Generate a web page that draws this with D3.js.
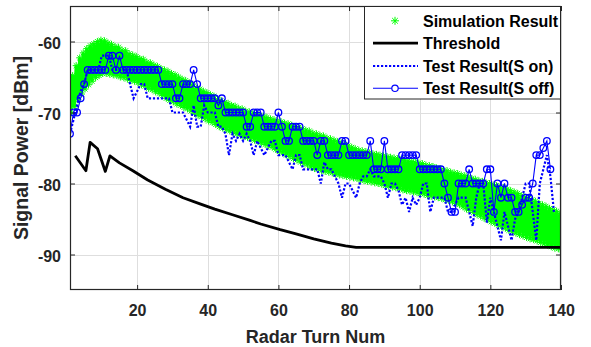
<!DOCTYPE html>
<html><head><meta charset="utf-8">
<script src="https://cdn.jsdelivr.net/npm/d3@7"></script>
<style>
body{margin:0;background:#fff}
text{font-family:"Liberation Sans",Arial,sans-serif;font-weight:bold}
</style>
</head><body><svg id="c" width="591" height="347"></svg>
<script>
const xTicks=[20,40,60,80,100,120,140];
const yTicks=[-90,-80,-70,-60];
const legendLabels=["Simulation Result","Threshold","Test Result(S on)","Test Result(S off)"];

// simulation band (upper / lower per turn, turns 1..140)
const simHi=[-66.3,-64.8,-63.4,-62.3,-61.6,-61.0,-60.6,-60.3,-60.0,-59.8,
-59.9,-60.2,-60.4,-60.7,-60.8,-61.2,-61.3,-61.7,-61.9,-62.1,
-62.4,-62.5,-62.9,-63.0,-63.3,-63.5,-63.8,-64.0,-64.2,-64.5,
-64.7,-65.0,-65.3,-65.5,-65.8,-66.0,-66.6,-66.7,-67.0,-67.2,
-67.5,-67.7,-68.2,-68.3,-68.6,-68.7,-69.0,-69.1,-69.4,-69.5,
-69.8,-69.9,-70.1,-70.2,-70.4,-70.5,-70.7,-70.9,-71.0,-71.2,
-71.3,-71.5,-71.6,-71.8,-72.0,-72.1,-72.3,-72.5,-72.6,-72.9,
-73.0,-73.2,-73.3,-73.6,-73.7,-73.9,-74.1,-74.3,-74.5,-74.7,
-74.9,-75.1,-75.3,-75.4,-75.5,-75.7,-75.8,-75.9,-76.0,-76.1,
-76.2,-76.3,-76.4,-76.5,-76.6,-76.7,-76.8,-76.9,-77.0,-77.1,
-77.2,-77.4,-77.5,-77.6,-77.8,-77.9,-78.1,-78.2,-78.4,-78.5,
-78.6,-78.8,-78.9,-79.1,-79.3,-79.4,-79.6,-79.7,-79.9,-80.0,
-80.2,-80.3,-80.5,-80.6,-80.8,-81.0,-81.2,-81.4,-81.7,-81.9,
-82.1,-82.3,-82.5,-82.8,-83.0,-83.2,-83.5,-83.7,-83.9,-84.2];
const simLo=[-70.2,-69.2,-68.2,-67.4,-66.7,-66.1,-65.6,-65.1,-64.8,-64.5,
-64.5,-64.6,-64.7,-64.8,-65.0,-65.1,-65.3,-65.5,-65.6,-65.8,
-66.1,-66.3,-66.6,-66.8,-67.1,-67.3,-67.6,-68.0,-68.3,-68.5,
-68.8,-69.0,-69.3,-69.5,-69.8,-70.1,-70.4,-70.6,-70.9,-71.2,
-71.4,-71.7,-72.0,-72.2,-72.4,-72.6,-72.8,-73.0,-73.2,-73.4,
-73.5,-73.7,-73.9,-74.1,-74.3,-74.5,-74.7,-74.9,-75.2,-75.5,
-75.7,-76.0,-76.2,-76.5,-76.7,-77.0,-77.2,-77.4,-77.7,-77.9,
-78.0,-78.2,-78.3,-78.4,-78.5,-78.7,-78.8,-78.9,-79.0,-79.1,
-79.2,-79.3,-79.5,-79.6,-79.7,-79.8,-79.9,-80.0,-80.1,-80.3,
-80.4,-80.5,-80.6,-80.7,-80.9,-81.0,-81.1,-81.2,-81.3,-81.4,
-81.5,-81.7,-81.8,-81.9,-82.0,-82.1,-82.3,-82.4,-82.6,-82.8,
-83.0,-83.3,-83.6,-83.8,-84.1,-84.4,-84.6,-84.9,-85.1,-85.4,
-85.6,-85.9,-86.1,-86.3,-86.6,-86.8,-87.0,-87.2,-87.4,-87.6,
-87.8,-87.9,-88.1,-88.3,-88.5,-88.7,-88.9,-89.1,-89.2,-89.3];

// threshold curve
const thrX=[2.5,5.5,6.7,8.8,11,12.3,15,18.8,23,28,33,38,42,47,52,55,60.5,65,70,75,79,82,100,120,140];
const thrY=[-76.1,-78.2,-74.2,-75.1,-78.3,-76.1,-77.1,-78.2,-79.5,-80.8,-82,-82.9,-83.6,-84.4,-85.2,-85.7,-86.5,-87.1,-87.8,-88.4,-88.8,-89,-89,-89,-89];

// Test Result (S off), turns 1..137
const sOff=[-73,-70,-70,-68,-66,-64,-64,-64,-64,-64,
-64,-62,-62,-64,-62,-64,-64,-64,-64,-64,
-64,-64,-64,-64,-64,-64,-66,-66,-66,-66,
-68,-68,-66,-66,-66,-64,-66,-68,-68,-68,
-68,-68,-69,-68,-70,-70,-70,-70,-70,-70,
-72,-72,-70,-70,-70,-72,-72,-72,-72,-70,
-72,-74,-74,-72,-72,-72,-74,-74,-74,-74,
-76,-74,-74,-76,-76,-76,-76,-74,-74,-76,
-76,-76,-76,-76,-76,-74,-78,-78,-78,-74,
-78,-78,-78,-78,-76,-76,-76,-76,-76,-78,
-78,-78,-78,-78,-78,-78,-80,-82,-84,-84,
-80,-80,-80,-78,-80,-80,-80,-80,-78,-78,
-84,-80,-82,-80,-82,-82,-84,-84,-83,-82,
-82,-80,-76,-76,-75,-74,-78];

// Test Result (S on), turns 1..138
const sOn=[-73,-71,-69,-67,-66,-64,-64,-64,-64,-62,
-62,-62,-64,-64,-64,-64,-64,-66,-68,-67,
-66,-66,-68,-68,-68,-68,-68,-68,-68,-70,
-70,-70,-70,-71,-72,-69,-72,-72,-69,-70,
-70,-70,-72,-72,-73,-76,-73,-74,-73,-74,
-73,-74,-76,-74,-75,-76,-75,-74,-74,-76,
-76,-76,-77,-78,-76,-76,-78,-78,-78,-78,
-78,-80,-77,-78,-78,-79,-80,-82,-80,-80,
-81,-82,-80,-79,-79,-78,-79,-79,-79,-80,
-82,-80,-80,-81,-83,-82,-84,-82,-83,-82,
-80,-80,-84,-82,-82,-82,-82,-84,-84,-83,
-82,-82,-82,-84,-86,-82,-80,-80,-85.5,-82,
-84,-86,-88,-84,-86,-88,-85,-84,-82,-80,
-80,-84,-88,-80,-78,-76,-79,-84];

const svg=d3.select("#c");
const L=70,R=561,T=6,B=290;
const x=d3.scaleLinear().domain([1,140]).range([L,R]);
const y=d3.scaleLinear().domain([-95,-55]).range([B,T]);
const AX="#262626";
const fmt=d=>String(d);

svg.append("rect").attr("width",591).attr("height",347).attr("fill","#fff");
svg.append("defs").append("clipPath").attr("id","clip").append("rect")
  .attr("x",L).attr("y",T).attr("width",R-L).attr("height",B-T);

// grid
const g=svg.append("g");
g.selectAll(".gx").data(xTicks).join("line")
  .attr("x1",d=>Math.round(x(d))+0.5).attr("x2",d=>Math.round(x(d))+0.5)
  .attr("y1",T).attr("y2",B).attr("stroke","#dedede").attr("stroke-width",1);
g.selectAll(".gy").data(yTicks).join("line")
  .attr("y1",d=>Math.round(y(d))+0.5).attr("y2",d=>Math.round(y(d))+0.5)
  .attr("x1",L).attr("x2",R).attr("stroke","#dedede").attr("stroke-width",1);

const plot=svg.append("g").attr("clip-path","url(#clip)");

// simulation: zigzag band + asterisks
const simPts=[];
simHi.forEach((v,i)=>{simPts.push([i+1-0.25,v]);simPts.push([i+1+0.25,simLo[i]]);});
const line=d3.line().x(d=>x(d[0])).y(d=>y(d[1]));
plot.append("path").attr("d",line(simPts)).attr("fill","none")
  .attr("stroke","#00ff00").attr("stroke-width",3.2);
function ast(r){const a=r*0.7;return `M${-r},0H${r}M0,${-r}V${r}M${-a},${-a}L${a},${a}M${-a},${a}L${a},${-a}`;}
plot.append("g").selectAll("path").data(simPts).join("path")
  .attr("transform",d=>`translate(${x(d[0])},${y(d[1])})`)
  .attr("d",ast(3.5)).attr("stroke","#00ff00").attr("stroke-width",1).attr("fill","none");

// threshold
plot.append("path").attr("d",line(thrX.map((t,i)=>[t,thrY[i]])))
  .attr("fill","none").attr("stroke","#000").attr("stroke-width",2.8).attr("stroke-linejoin","round");

// S on dotted
plot.append("path").attr("d",line(sOn.map((v,i)=>[i+1,v])))
  .attr("fill","none").attr("stroke","#0000ff").attr("stroke-width",2.2)
  .attr("stroke-dasharray","2.2,1.8");

// S off with circles
plot.append("path").attr("d",line(sOff.map((v,i)=>[i+1,v])))
  .attr("fill","none").attr("stroke","#0000ff").attr("stroke-width",1.1);
plot.append("g").selectAll("circle").data(sOff).join("circle")
  .attr("cx",(d,i)=>x(i+1)).attr("cy",d=>y(d)).attr("r",3.3)
  .attr("fill","none").attr("stroke","#0000ff").attr("stroke-width",1.3);

// axes
const fs="16px";
const ax=svg.append("g").attr("transform",`translate(0,${B})`)
  .call(d3.axisBottom(x).tickValues(xTicks).tickFormat(fmt).tickSizeInner(-5).tickSizeOuter(0).tickPadding(15));
const axT=svg.append("g").attr("transform",`translate(0,${T})`)
  .call(d3.axisTop(x).tickValues(xTicks).tickSizeInner(-5).tickSizeOuter(0).tickFormat(""));
const ay=svg.append("g").attr("transform",`translate(${L},0)`)
  .call(d3.axisLeft(y).tickValues(yTicks).tickFormat(fmt).tickSizeInner(-5).tickSizeOuter(0).tickPadding(9));
const ayR=svg.append("g").attr("transform",`translate(${R},0)`)
  .call(d3.axisRight(y).tickValues(yTicks).tickSizeInner(-5).tickSizeOuter(0).tickFormat(""));
[ax,axT,ay,ayR].forEach(a=>{a.select(".domain").remove();
  a.selectAll("line").attr("stroke",AX);
  a.selectAll("text").attr("fill",AX).style("font-size",fs).style("font-weight","bold")
   .style("font-family",'"Liberation Sans",Arial,sans-serif');});
ay.selectAll("text").attr("dy","0.42em");

svg.append("rect").attr("x",L+0.5).attr("y",T+0.5).attr("width",R-L-1).attr("height",B-T-1)
  .attr("fill","none").attr("stroke",AX).attr("stroke-width",1.2);

// titles
svg.append("text").attr("x",(L+R)/2).attr("y",343).attr("text-anchor","middle")
  .attr("fill",AX).style("font-size","18px").text("Radar Turn Num");
svg.append("text").attr("transform",`translate(28,${(T+B)/2}) rotate(-90)`).attr("text-anchor","middle")
  .attr("fill",AX).style("font-size","19.5px").text("Signal Power [dBm]");

// legend
const lg=svg.append("g");
lg.append("rect").attr("x",364.5).attr("y",6.5).attr("width",196).attr("height",92.5)
  .attr("fill","#fff").attr("stroke",AX).attr("stroke-width",1);
const rows=[20.8,43.2,66,88.3];
lg.selectAll("text").data(legendLabels).join("text")
  .attr("x",423).attr("y",(d,i)=>rows[i]).attr("dy","0.36em")
  .attr("fill","#000").style("font-size","16px").text(d=>d);
lg.append("path").attr("transform",`translate(395,${rows[0]})`).attr("d",ast(4))
  .attr("stroke","#00ff00").attr("stroke-width",1).attr("fill","none");
lg.append("line").attr("x1",373).attr("x2",418).attr("y1",rows[1]).attr("y2",rows[1])
  .attr("stroke","#000").attr("stroke-width",2.8);
lg.append("line").attr("x1",373).attr("x2",418).attr("y1",rows[2]).attr("y2",rows[2])
  .attr("stroke","#0000ff").attr("stroke-width",2.2).attr("stroke-dasharray","2.2,1.8");
lg.append("line").attr("x1",373).attr("x2",418).attr("y1",rows[3]).attr("y2",rows[3])
  .attr("stroke","#0000ff").attr("stroke-width",1.1);
lg.append("circle").attr("cx",395).attr("cy",rows[3]).attr("r",3.2)
  .attr("fill","#fff").attr("stroke","#0000ff").attr("stroke-width",1.2);
</script></body></html>
